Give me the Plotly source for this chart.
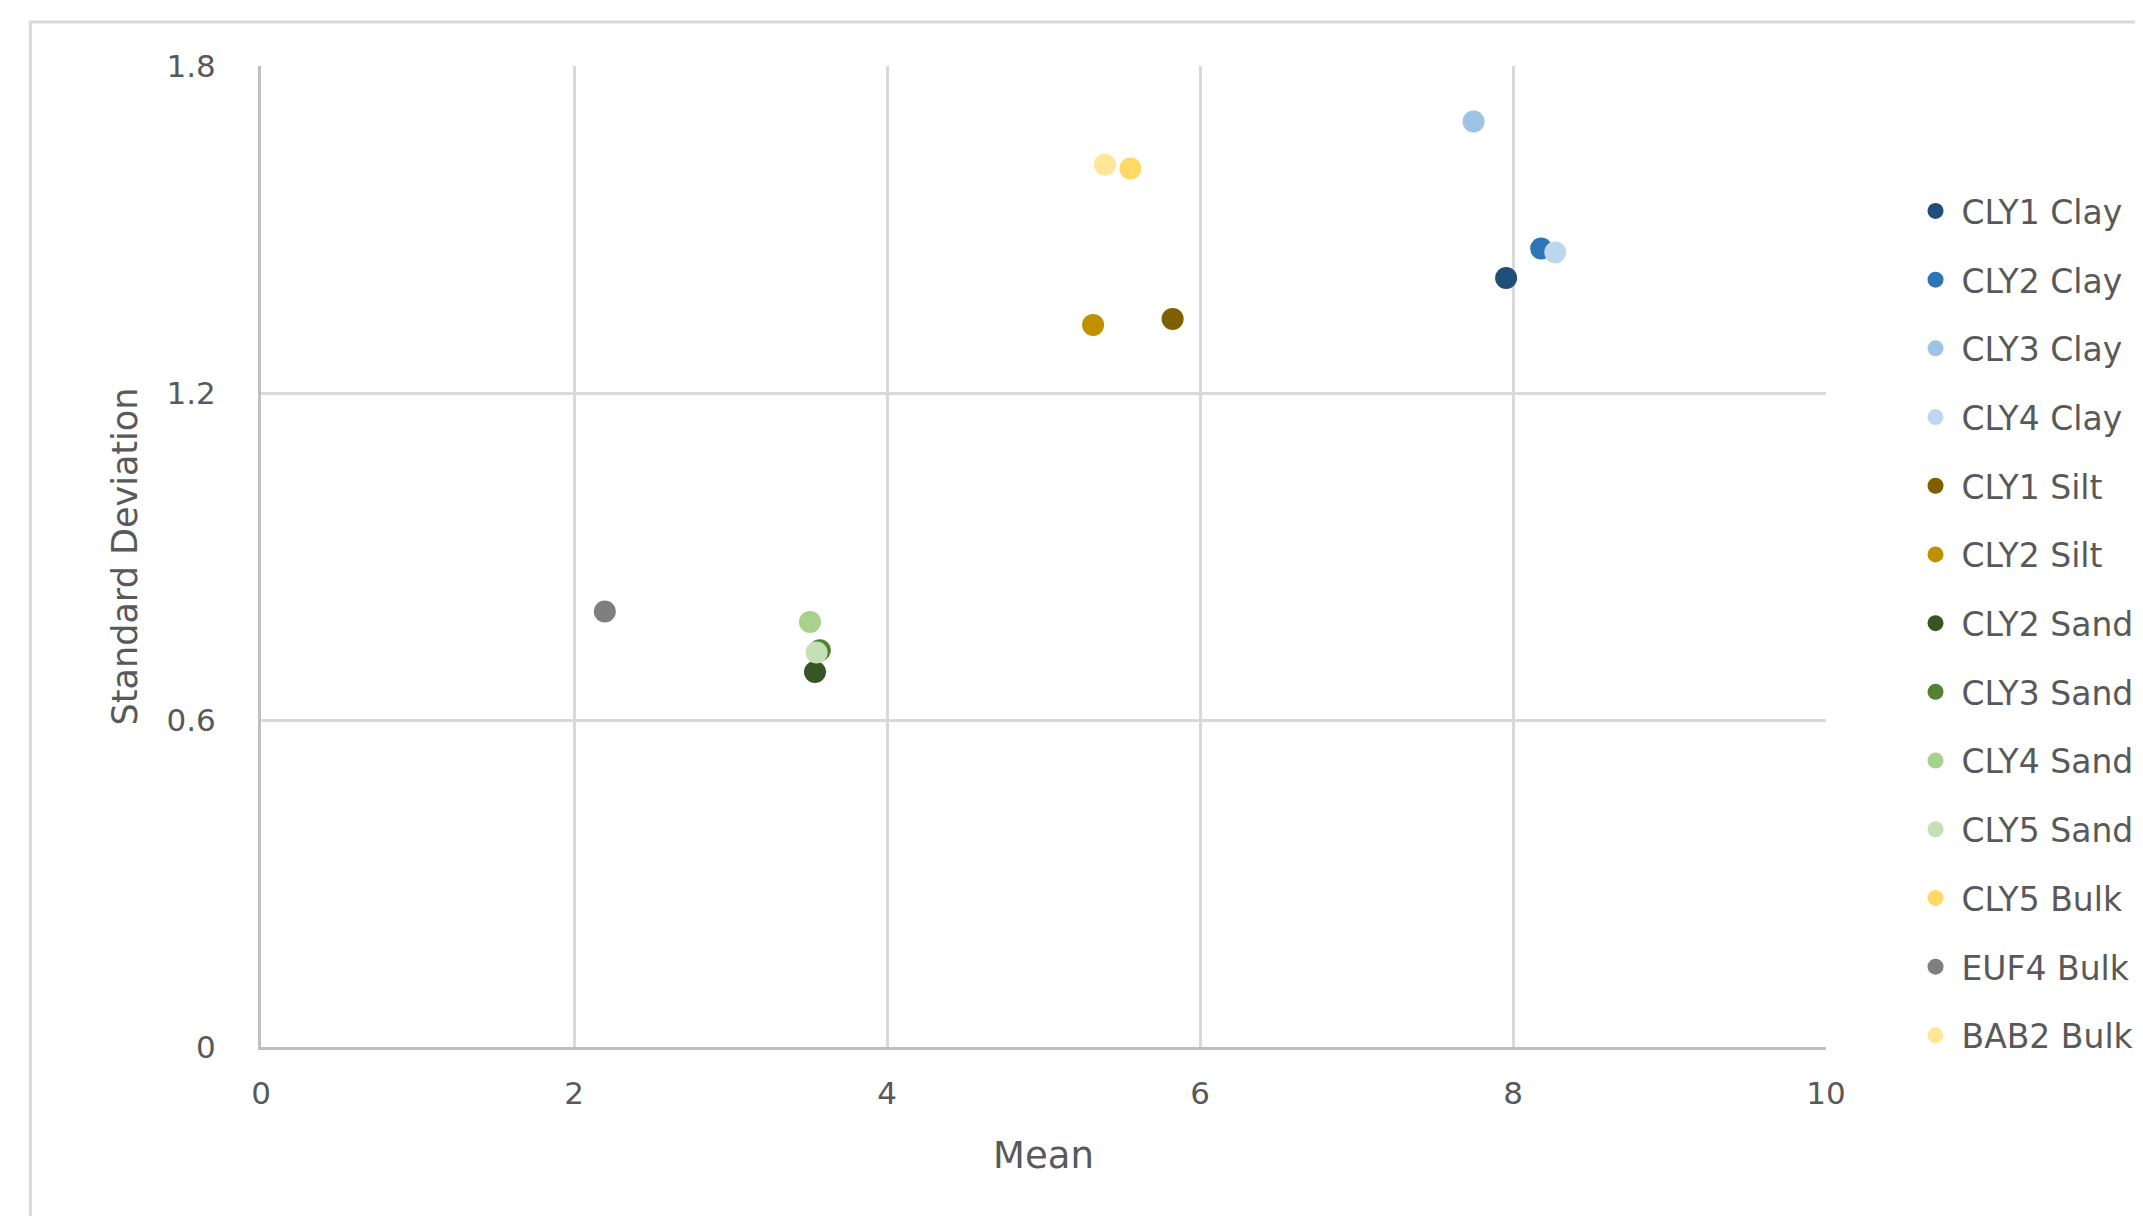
import plotly.graph_objects as go

names = ["CLY1 Clay", "CLY2 Clay", "CLY3 Clay", "CLY4 Clay", "CLY1 Silt", "CLY2 Silt",
         "CLY2 Sand", "CLY3 Sand", "CLY4 Sand", "CLY5 Sand", "CLY5 Bulk", "EUF4 Bulk", "BAB2 Bulk"]
mean_vals = [7.956, 8.180, 7.748, 8.270, 5.825, 5.317, 3.540, 3.571, 3.508, 3.550, 5.555, 2.197, 5.393]
sd_vals = [1.411, 1.465, 1.698, 1.458, 1.336, 1.325, 0.688, 0.728, 0.780, 0.724, 1.612, 0.799, 1.619]
colors = ["#1F4E79", "#2E75B6", "#9DC3E6", "#BDD7EE", "#7F6000", "#BF9000",
          "#375623", "#548235", "#A9D18E", "#C5E0B4", "#FFD966", "#7F7F7F", "#FFE699"]
x_ticks = [0, 2, 4, 6, 8, 10]
y_ticks = [0, 0.6, 1.2, 1.8]
y_tick_text = ["0", "0.6", "1.2", "1.8"]

FONT = "DejaVu Sans"
TXT = "#595959"

fig = go.Figure()
for n, x, y, c in zip(names, mean_vals, sd_vals, colors):
    fig.add_trace(go.Scatter(x=[x], y=[y], mode="markers", name=n, legendgroup=n,
                             marker=dict(color=c, size=22, line=dict(width=0))))

W, H = 2143, 1216
OFF = 8  # page body margin
L, R, T, B = 261 - OFF, 1835 - OFF, 66 - OFF, 1047 - OFF

def px_x(p):
    return (p - OFF - L) / (R - L)

def px_y(p):
    return (B - (p - OFF)) / (B - T)

fig.update_layout(
    width=W, height=H, autosize=False,
    margin=dict(l=L, r=W - R, t=T, b=H - B, pad=0),
    paper_bgcolor="white", plot_bgcolor="white",
    font=dict(family=FONT, color=TXT, size=30),
    showlegend=True,
    legend=dict(x=px_x(1919), xanchor="left", y=px_y(183), yanchor="top",
                font=dict(family=FONT, size=33, color=TXT), tracegroupgap=22.8,
                itemwidth=42, bgcolor="rgba(0,0,0,0)"),
    xaxis=dict(range=[0, 10], tickvals=x_ticks, showgrid=True, gridcolor="#D9D9D9", gridwidth=3,
               showline=True, linecolor="#BFBFBF", linewidth=3, zeroline=False, ticks="",
               tickfont=dict(family=FONT, size=31, color=TXT), ticklabelstandoff=17,
               title=dict(text="Mean", font=dict(family=FONT, size=37, color=TXT), standoff=32),
               automargin=False, fixedrange=True),
    yaxis=dict(range=[0, 1.8], tickvals=y_ticks, ticktext=y_tick_text, showgrid=True,
               gridcolor="#D9D9D9", gridwidth=3, showline=True, linecolor="#BFBFBF", linewidth=3,
               zeroline=False, ticks="", tickfont=dict(family=FONT, size=31, color=TXT),
               ticklabelstandoff=36,
               title=dict(text="Standard Deviation", font=dict(family=FONT, size=35, color=TXT), standoff=19),
               automargin=False, fixedrange=True),
    shapes=[dict(type="rect", xref="paper", yref="paper",
                 x0=px_x(29), x1=2.0, y0=-1.0, y1=px_y(22),
                 line=dict(color="#D9D9D9", width=3), fillcolor="rgba(0,0,0,0)", layer="below")],
)

fig.write_html("out.html")
